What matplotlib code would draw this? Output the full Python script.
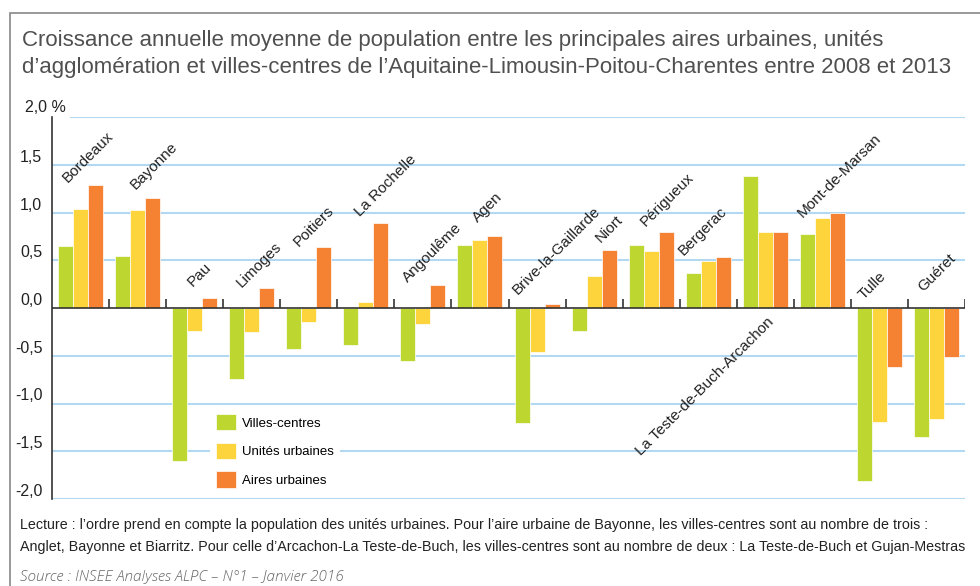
import matplotlib
matplotlib.use("Agg")
import matplotlib.pyplot as plt
from matplotlib.patches import Rectangle
import numpy as np

villes = ['Bordeaux', 'Bayonne', 'Pau', 'Limoges', 'Poitiers', 'La Rochelle',
          'Angoulême', 'Agen', 'Brive-la-Gaillarde', 'Niort', 'Périgueux',
          'Bergerac', 'La Teste-de-Buch-Arcachon', 'Mont-de-Marsan', 'Tulle', 'Guéret']

villes_centres = [0.65, 0.54, -1.60, -0.74, -0.43, -0.39, -0.55, 0.66,
                  -1.20, -0.24, 0.66, 0.37, 1.38, 0.77, -1.81, -1.35]
unites_urbaines = [1.04, 1.03, -0.24, -0.25, -0.15, 0.06, -0.17, 0.71,
                   -0.46, 0.34, 0.60, 0.49, 0.80, 0.94, -1.19, -1.16]
aires_urbaines = [1.29, 1.15, 0.10, 0.21, 0.64, 0.89, 0.24, 0.75,
                  0.04, 0.61, 0.80, 0.53, 0.80, 0.99, -0.62, -0.51]

series_noms = ['Villes-centres', 'Unités urbaines', 'Aires urbaines']
couleurs = ['#bed630', '#fdd43c', '#f58233']

yticks = [-2.0, -1.5, -1.0, -0.5, 0.0, 0.5, 1.0, 1.5, 2.0]
ytick_labels = ['-2,0', '-1,5', '-1,0', '-0,5', '0,0', '0,5', '1,0', '1,5', '']

titre_1 = "Croissance annuelle moyenne de population entre les principales aires urbaines, unités"
titre_2 = "d’agglomération et villes-centres de l’Aquitaine-Limousin-Poitou-Charentes entre 2008 et 2013"
lecture_1 = ("Lecture : l’ordre prend en compte la population des unités urbaines. Pour l’aire urbaine de Bayonne, "
             "les villes-centres sont au nombre de trois :")
lecture_2 = ("Anglet, Bayonne et Biarritz. Pour celle d’Arcachon-La Teste-de-Buch, les villes-centres sont "
             "au nombre de deux : La Teste-de-Buch et Gujan-Mestras")
source = "Source : INSEE Analyses ALPC – N°1 – Janvier 2016"

# placement of the rotated city names (offset from group start, lift above the tallest bar)
label_dx = [0.28, 0.46, 0.46, 0.33, 0.32, 0.40, 0.23, 0.46, 0.16, 0.61, 0.40, 0.07, 0.52, 0.16, 0.23, 0.26]
label_dy = [0.02, 0.09, 0.12, 0.0, 0.0, 0.06, 0.02, 0.14, 0.10, 0.07, 0.05, 0.02, -0.07, -0.05, 0.08, 0.17]

plt.rcParams['font.family'] = ['Liberation Sans', 'DejaVu Sans']

fig = plt.figure(figsize=(9.8, 5.86), dpi=100)
ax = fig.add_axes([52 / 980, 1 - 499 / 586, 913 / 980, 382 / 586])

x = np.arange(len(villes)) + 0.5
w = 0.263
for k, (vals, nom, c) in enumerate(zip([villes_centres, unites_urbaines, aires_urbaines], series_noms, couleurs)):
    ax.bar(x + (k - 1) * w, vals, width=w, color=c, edgecolor='white', linewidth=0.5,
           label=nom, zorder=2)

ax.set_xlim(0, len(villes))
ax.set_ylim(-2, 2)

# gridlines
for y in yticks:
    if y == 2.0:
        ax.axhline(y, xmin=19 / 913, color='#b3d9f2', lw=1.5, zorder=1)
    elif y != 0:
        ax.axhline(y, color='#b3d9f2', lw=1.5, zorder=1)
ax.axhline(0, color='#333333', lw=1.2, zorder=3)
ax.vlines(np.arange(1, len(villes) + 1), 0, 0.09, color='#333333', lw=1.2, zorder=3)

for s in ['top', 'right', 'bottom']:
    ax.spines[s].set_visible(False)
ax.spines['left'].set_color('#333333')
ax.spines['left'].set_linewidth(1.2)

ax.set_xticks([])
ax.set_yticks(yticks)
ax.set_yticklabels(ytick_labels, fontsize=11.5, color='#222222')
ax.tick_params(axis='y', length=0, pad=7)
for lab in ax.get_yticklabels():
    lab.set_verticalalignment('bottom')
ax.annotate('2,0 %', xy=(0, 2.0), xycoords=('axes fraction', 'data'), xytext=(-27, 2),
            textcoords='offset pixels', ha='left', va='bottom', fontsize=11.5, color='#222222')

# city labels
for i, nom in enumerate(villes):
    if nom == 'La Teste-de-Buch-Arcachon':
        ax.text(i + label_dx[i], label_dy[i], nom, rotation=45, rotation_mode='anchor',
                ha='right', va='top', fontsize=11, color='#222222')
    else:
        top = max(villes_centres[i], unites_urbaines[i], aires_urbaines[i], 0)
        ax.text(i + label_dx[i], top + label_dy[i], nom, rotation=45, rotation_mode='anchor',
                ha='left', va='baseline', fontsize=11, color='#222222')

leg = ax.legend(loc='upper left', bbox_to_anchor=(203 / 980, 1 - 401 / 586),
                bbox_transform=fig.transFigure, frameon=True, fancybox=False,
                edgecolor='none', facecolor='white', framealpha=1, fontsize=9.5,
                handlelength=1.5, handleheight=1.5, labelspacing=0.95,
                borderpad=0.5, handletextpad=0.45)
leg.set_zorder(5)

# frame, title, notes
fig.patches.append(Rectangle((10 / 980, -0.1), 1.2, 1.1 - 13 / 586, transform=fig.transFigure,
                             fill=False, edgecolor='#888888', lw=1.2))
fig.text(22 / 980, 1 - 46 / 586, titre_1, fontsize=16, color='#505050', va='baseline')
fig.text(22 / 980, 1 - 73 / 586, titre_2, fontsize=16, color='#505050', va='baseline')
fig.text(20 / 980, 1 - 529 / 586, lecture_1, fontsize=10.3, color='#222222', va='baseline')
fig.text(20 / 980, 1 - 551 / 586, lecture_2, fontsize=10.3, color='#222222', va='baseline')
fig.text(20 / 980, 1 - 581 / 586, source, fontsize=11, family='Open Sans', style='italic',
         weight='light', color='#666666', va='baseline')

fig.savefig('out.png', dpi=100)
